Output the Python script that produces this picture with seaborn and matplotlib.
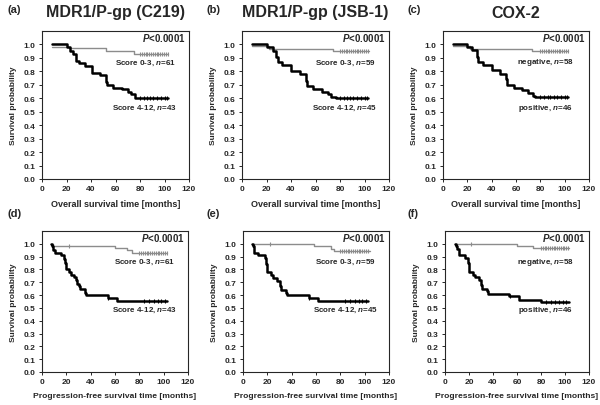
import numpy as np
import pandas as pd
import seaborn as sns
from matplotlib import pyplot as plt

# ---- data (Kaplan-Meier steps) ----
titles = ['MDR1/P-gp (C219)', 'MDR1/P-gp (JSB-1)', 'COX-2']
letters = ['(a)', '(b)', '(c)', '(d)', '(e)', '(f)']
low_labels = ['Score 0-3, ', 'Score 0-3, ', 'negative, ']
low_n = ['61', '59', '58']
high_labels = ['Score 4-12, ', 'Score 4-12, ', 'positive, ']
high_n = ['43', '45', '46']

# overall survival
a_gray_t = [8, 22, 52, 75, 103]
a_gray_s = [0.98, 0.97, 0.95, 0.93, 0.93]
a_black_t = [8, 20, 23, 25, 28, 30, 35, 41, 47, 52, 53, 58, 65, 70, 73, 76, 103]
a_black_s = [1.0, 0.98, 0.95, 0.93, 0.88, 0.86, 0.84, 0.79, 0.77, 0.72, 0.70, 0.68, 0.67, 0.65, 0.63, 0.60, 0.60]

b_gray_t = [8, 22, 74, 104]
b_gray_s = [0.985, 0.965, 0.95, 0.95]
b_black_t = [8, 20, 25, 28, 29, 33, 40, 47, 52, 53, 58, 65, 70, 73, 77, 103]
b_black_s = [1.0, 0.98, 0.95, 0.91, 0.87, 0.85, 0.80, 0.78, 0.73, 0.69, 0.67, 0.65, 0.63, 0.61, 0.60, 0.60]

c_gray_t = [8, 22, 73, 103]
c_gray_s = [0.985, 0.965, 0.95, 0.95]
c_black_t = [8, 20, 24, 28, 29, 33, 40, 47, 52, 53, 58, 65, 70, 74, 76, 103]
c_black_s = [1.0, 0.98, 0.96, 0.91, 0.87, 0.85, 0.81, 0.78, 0.74, 0.70, 0.675, 0.66, 0.64, 0.62, 0.61, 0.61]

# progression-free survival
d_gray_t = [7, 9, 60, 70, 74, 103]
d_gray_s = [1.0, 0.98, 0.965, 0.95, 0.93, 0.93]
d_black_t = [7, 8, 9, 11, 16, 18, 19, 20, 22, 24, 26, 28, 29, 30, 31, 35, 36, 54, 62, 103]
d_black_s = [1.0, 0.98, 0.95, 0.93, 0.91, 0.88, 0.85, 0.80, 0.78, 0.76, 0.74, 0.72, 0.69, 0.67, 0.65, 0.62, 0.60, 0.58, 0.555, 0.555]

e_gray_t = [7, 58, 72, 75, 104]
e_gray_s = [1.0, 0.98, 0.96, 0.945, 0.945]
e_black_t = [7, 8, 9, 12, 18, 19, 20, 23, 25, 28, 30, 31, 35, 36, 54, 62, 103]
e_black_s = [1.0, 0.98, 0.93, 0.91, 0.89, 0.84, 0.78, 0.76, 0.73, 0.71, 0.67, 0.64, 0.62, 0.60, 0.58, 0.555, 0.555]

f_gray_t = [8, 60, 73, 103]
f_gray_s = [1.0, 0.98, 0.965, 0.965]
f_black_t = [8, 9, 10, 12, 17, 19, 20, 23, 25, 28, 30, 31, 35, 36, 53, 62, 80, 103]
f_black_s = [1.0, 0.98, 0.96, 0.91, 0.89, 0.85, 0.78, 0.76, 0.74, 0.72, 0.68, 0.65, 0.63, 0.61, 0.59, 0.56, 0.545, 0.545]

# censoring marks (times)
cens_gray_os = [80, 81.5, 83, 84.5, 86, 87.5, 89, 90.5, 92, 93.5, 95, 96.5, 98, 99.5, 101, 102.5]
cens_black_os = [80, 83, 86, 88, 91, 94, 97, 100, 102]
cens_gray_pfs = [22, 80, 81.5, 83, 84.5, 86, 87.5, 89, 90.5, 92, 93.5, 95, 96.5, 98, 99.5, 101, 102.5]
cens_black_pfs = [54, 84, 88, 92, 95, 98, 101]

curves = [
    (a_gray_t, a_gray_s, a_black_t, a_black_s),
    (b_gray_t, b_gray_s, b_black_t, b_black_s),
    (c_gray_t, c_gray_s, c_black_t, c_black_s),
    (d_gray_t, d_gray_s, d_black_t, d_black_s),
    (e_gray_t, e_gray_s, e_black_t, e_black_s),
    (f_gray_t, f_gray_s, f_black_t, f_black_s),
]


def step_at(t, times, surv):
    idx = np.searchsorted(times, t, side='right') - 1
    return np.asarray(surv)[np.clip(idx, 0, len(surv) - 1)]


sns.set_style('ticks')
plt.rcParams['font.family'] = ['Liberation Sans', 'DejaVu Sans']
plt.rcParams['axes.linewidth'] = 0.8
plt.rcParams['mathtext.fontset'] = 'custom'
plt.rcParams['mathtext.it'] = 'Liberation Sans:italic:bold'
plt.rcParams['mathtext.rm'] = 'Liberation Sans:bold'
plt.rcParams['mathtext.bf'] = 'Liberation Sans:bold'

fig = plt.figure(figsize=(6.0, 4.06), dpi=100)
W, H = 600.0, 406.0
# pixel boxes: left, right, top, bottom
boxes = [(42, 189, 32, 180), (242, 389, 32, 180), (443, 589, 32, 180),
         (42, 188, 232, 373), (243, 389, 232, 373), (445, 589, 232, 373)]
colors = {'low': '#8c8c8c', 'high': '#000000'}

for i, (l, r, t, b) in enumerate(boxes):
    ax = fig.add_axes([l / W, 1 - b / H, (r - l) / W, (b - t) / H])
    gt, gs, bt, bs = curves[i]
    df = pd.concat([
        pd.DataFrame({'time': gt, 'surv': gs, 'group': 'low'}),
        pd.DataFrame({'time': bt, 'surv': bs, 'group': 'high'}),
    ], ignore_index=True)
    sns.lineplot(data=df, x='time', y='surv', hue='group', size='group',
                 palette=colors, sizes={'low': 1.0, 'high': 1.8},
                 drawstyle='steps-post', estimator=None, sort=False,
                 legend=False, ax=ax)
    cg = cens_gray_os if i < 3 else cens_gray_pfs
    cb = cens_black_os if i < 3 else cens_black_pfs
    cdf = pd.concat([
        pd.DataFrame({'time': cg, 'surv': step_at(cg, gt, gs), 'group': 'low'}),
        pd.DataFrame({'time': cb, 'surv': step_at(cb, bt, bs), 'group': 'high'}),
    ], ignore_index=True)
    sns.scatterplot(data=cdf, x='time', y='surv', hue='group', palette=colors,
                    marker='|', s=9, linewidth=0.8, legend=False, ax=ax)

    ax.set_xlim(0, 120)
    ax.set_ylim(0, 1.1)
    ax.set_xticks(np.arange(0, 121, 20))
    ax.set_yticks(np.arange(0, 1.01, 0.1))
    ax.set_yticklabels(['%.1f' % v for v in np.arange(0, 1.01, 0.1)])
    ax.tick_params(labelsize=6, length=2.5, width=0.7, pad=2)
    for lab in ax.get_xticklabels() + ax.get_yticklabels():
        lab.set_fontweight('bold')
    ax.set_ylabel('Survival probability', fontsize=6, fontweight='bold', labelpad=5)
    if i < 3:
        ax.set_xlabel('Overall survival time [months]', fontsize=6.5,
                      fontweight='bold', labelpad=5)
    else:
        ax.set_xlabel('Progression-free survival time [months]', fontsize=6.1,
                      fontweight='bold', labelpad=5)

    ax.text(117, 1.055, '$\\mathit{P}$<0.0001', fontsize=7, fontweight='bold',
            ha='right', va='center')
    k = i % 3
    ly = 0.87 if i < 3 else 0.865
    hy = 0.53 if i < 3 else 0.49
    ax.text(84, ly, low_labels[k] + '$\\mathit{n}$=' + low_n[k], fontsize=5.8,
            fontweight='bold', ha='center', va='center')
    ax.text(84, hy, high_labels[k] + '$\\mathit{n}$=' + high_n[k], fontsize=5.8,
            fontweight='bold', ha='center', va='center')

    px = [7, 207, 407][k] / W
    py = 1 - (10 if i < 3 else 214) / H
    fig.text(px, py, letters[i], fontsize=8, fontweight='bold', va='center', ha='left')
    if i < 3:
        fig.text((l + r) / 2 / W, 1 - 13 / H, titles[i], fontsize=11.5,
                 fontweight='bold', ha='center', va='center')

fig.savefig('out.png', dpi=100)
